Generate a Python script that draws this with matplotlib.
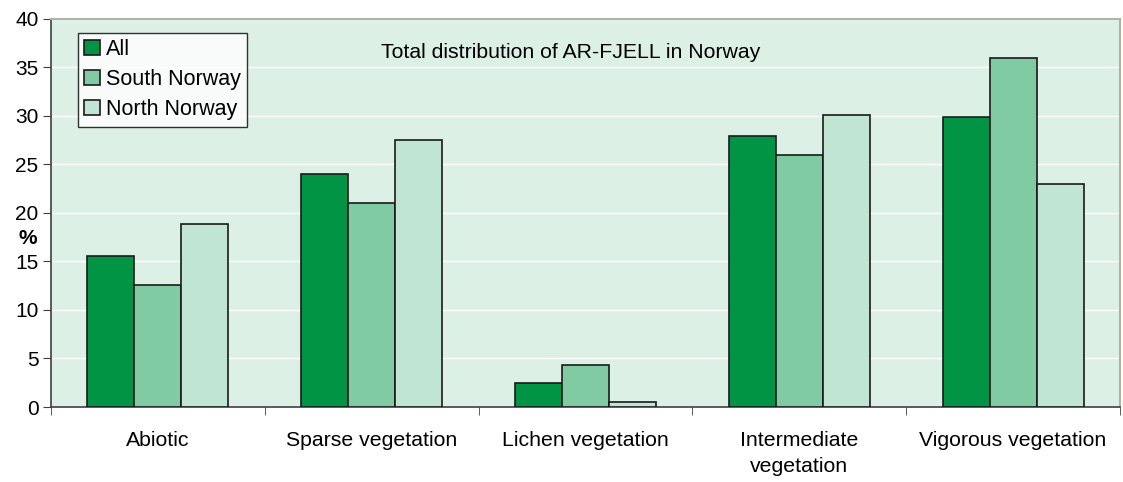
import numpy as np
from matplotlib import pyplot as plt
from matplotlib.ticker import FixedLocator, NullFormatter

plt.rcParams['font.family'] = ['Liberation Sans', 'DejaVu Sans']

# Data
categories = ['Abiotic', 'Sparse vegetation', 'Lichen vegetation',
              'Intermediate\nvegetation', 'Vigorous vegetation']
series = ['All', 'South Norway', 'North Norway']
all_norway = [15.5, 24.0, 2.5, 27.9, 29.9]
south_norway = [12.6, 21.0, 4.3, 25.9, 35.9]
north_norway = [18.8, 27.5, 0.5, 30.1, 23.0]
colors = ['#009444', '#80cba2', '#c0e6d3']

fig = plt.figure(figsize=(11.23, 4.82), dpi=100)
ax = fig.add_axes([0.0454, 0.1556, 0.9519, 0.806])
ax.set_facecolor('#ddf0e5')

x = np.arange(len(categories))
w = 0.22
for i, (vals, name, c) in enumerate(zip([all_norway, south_norway, north_norway], series, colors)):
    ax.bar(x + (i - 1) * w, vals, w, color=c, edgecolor='#1a1a1a',
           linewidth=1.2, label=name, zorder=3)

ax.set_xlim(-0.5, len(categories) - 0.5)
ax.set_ylim(0, 40)
ax.set_yticks(np.arange(0, 41, 5))
ax.yaxis.grid(True, color='white', linewidth=1.0, zorder=0)
ax.set_axisbelow(True)

# category labels centred, ticks between categories
ax.set_xticks(x)
ax.set_xticklabels(categories, fontsize=15.3, linespacing=1.5)
ax.tick_params(axis='x', which='major', length=0, pad=17)
ax.xaxis.set_minor_locator(FixedLocator(np.arange(-0.5, len(categories), 1)))
ax.xaxis.set_minor_formatter(NullFormatter())
ax.tick_params(axis='x', which='minor', length=6, color='#404040')
ax.tick_params(axis='y', labelsize=15, length=6, color='#404040', pad=3)

for s in ['left', 'bottom']:
    ax.spines[s].set_color('#404040')
    ax.spines[s].set_linewidth(1.2)
for s in ['top', 'right']:
    ax.spines[s].set_color('#b3b3a3')
    ax.spines[s].set_linewidth(1.5)

ax.text(-0.0215, 17.4, '%', transform=ax.get_yaxis_transform(), fontsize=15,
        fontweight='bold', ha='center', va='center', clip_on=False)
ax.text(1.93, 36.5, 'Total distribution of AR-FJELL in Norway', fontsize=15.3,
        ha='center', va='center')

leg = ax.legend(loc='upper left', bbox_to_anchor=(0.0253, 0.963), fontsize=15.5,
                frameon=True, fancybox=False, edgecolor='black', handlelength=0.7,
                handleheight=0.7, handletextpad=0.3, borderpad=0.3,
                labelspacing=0.42, borderaxespad=0)
leg.get_frame().set_linewidth(1.0)

fig.savefig('out.png', dpi=100)
